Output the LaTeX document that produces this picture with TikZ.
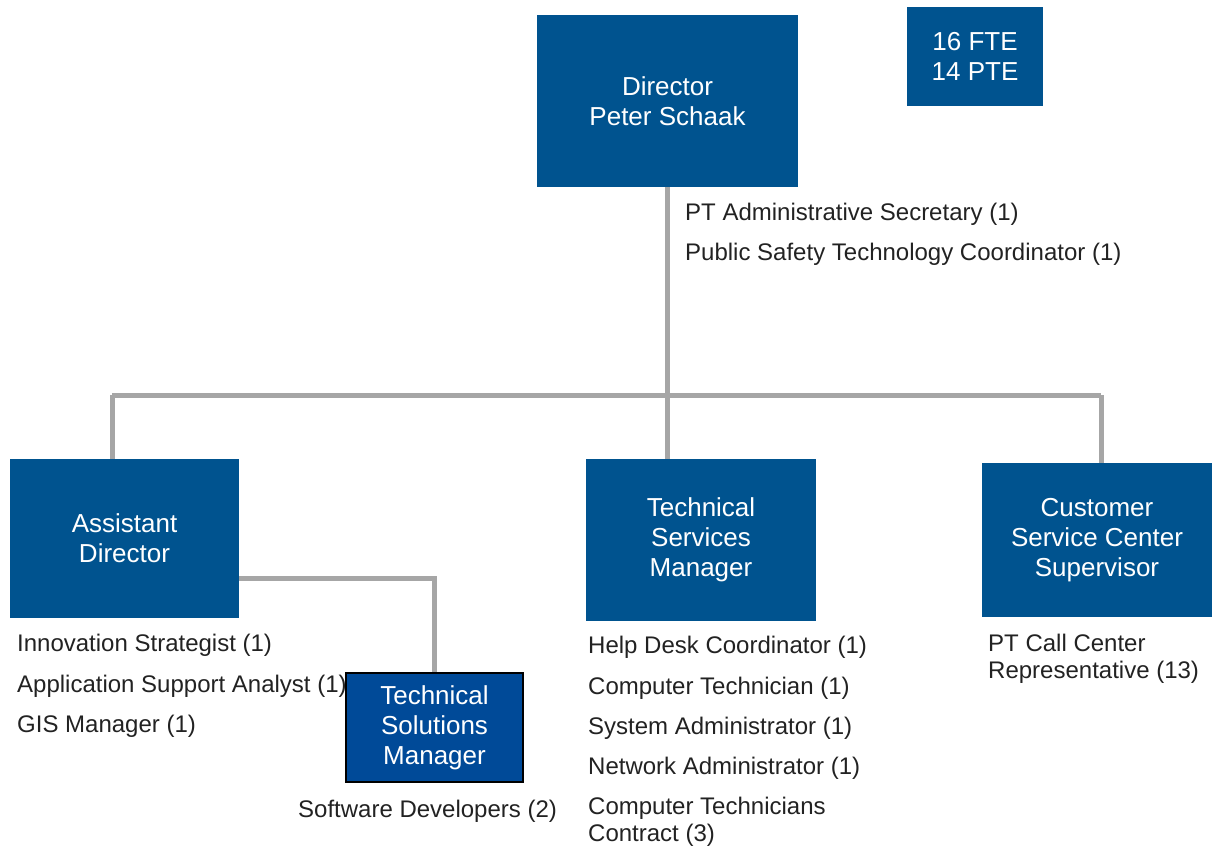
\documentclass[tikz,border=0pt]{standalone}
\usepackage{fontspec}
\setmainfont{Liberation Sans}
\usepackage{tikz}

\definecolor{unitblue}{RGB}{0,83,143}
\definecolor{solblue}{RGB}{0,74,152}
\definecolor{linkgray}{RGB}{166,166,166}
\definecolor{stafftext}{RGB}{34,34,34}

\tikzset{
  unit/.style={fill=unitblue, text=white, align=center, inner sep=0pt,
    font=\fontsize{26}{30}\selectfont},
  staff/.style={anchor=west, inner sep=0pt, align=left, text=stafftext,
    font=\fontsize{24}{27}\selectfont},
  link/.style={draw=linkgray, line width=5pt}
}

\begin{document}
\begin{tikzpicture}[x=1pt,y=-1pt]
\useasboundingbox (0,0) rectangle (1212,848);

% director
\node[unit, minimum width=261pt, minimum height=172pt] (dir) at (667.5,101) {Director\\Peter Schaak};
\node[staff] (sec) at (685,214) {PT Administrative Secretary (1)};
\node[staff] (pstc) at (685,254) {Public Safety Technology Coordinator (1)};

% head count
\node[unit, minimum width=136pt, minimum height=99pt] (fte) at (975,56.5) {16 FTE\\14 PTE};

% assistant director
\node[unit, minimum width=229pt, minimum height=159pt] (asst) at (124.5,538.5) {Assistant\\Director};
\node[staff] (innov) at (17,645) {Innovation Strategist (1)};
\node[staff] (appsup) at (17,686) {Application Support Analyst (1)};
\node[staff] (gis) at (17,726) {GIS Manager (1)};

% technical solutions
\node[unit, fill=solblue, draw=black, line width=1.5pt, minimum width=177pt, minimum height=109pt] (tsol) at (434.5,727.5) {Technical\\Solutions\\Manager};
\node[staff] (swdev) at (298,811) {Software Developers (2)};

% technical services
\node[unit, minimum width=230pt, minimum height=162pt] (tsvc) at (701,540) {Technical\\Services\\Manager};
\node[staff] (help) at (588,647) {Help Desk Coordinator (1)};
\node[staff] (tech) at (588,688) {Computer Technician (1)};
\node[staff] (sysad) at (588,728) {System Administrator (1)};
\node[staff] (netad) at (588,768) {Network Administrator (1)};
\node[staff] (contr) at (588,821.5) {Computer Technicians\\Contract (3)};

% customer service
\node[unit, minimum width=230pt, minimum height=154pt] (cust) at (1097,540) {Customer\\Service Center\\Supervisor};
\node[staff] (call) at (988,658.5) {PT Call Center\\Representative (13)};

% connectors
\coordinate (busL) at (112,395);
\coordinate (busR) at (1101,395);
\draw[link] (dir.south) -- (dir.south |- tsvc.north);
\draw[link] (busL) -- (busR);
\draw[link] (busL) -- (busL |- asst.north);
\draw[link] (busR) -- (busR |- cust.north);
\draw[link] (asst.south east) ++(0,-40) -| (tsol.north);

\end{tikzpicture}
\end{document}
